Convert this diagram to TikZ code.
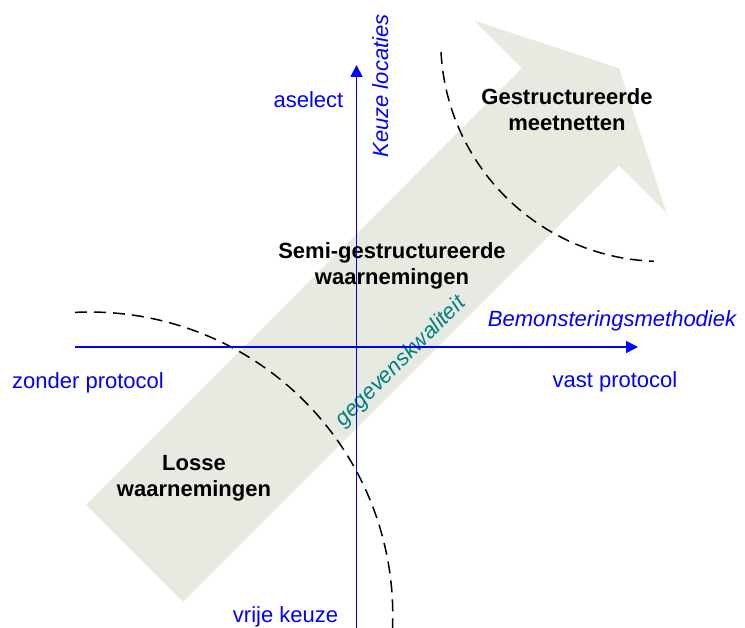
\documentclass[tikz,border=0pt]{standalone}
\usepackage{fontspec}
\setmainfont{Liberation Sans}
\usetikzlibrary{arrows.meta}
\definecolor{arrowfill}{RGB}{231,234,225}
\definecolor{axisblue}{RGB}{0,0,255}
\definecolor{tealtxt}{RGB}{0,128,128}
\tikzset{
  lbl/.style={font=\fontsize{22}{26}\selectfont, inner sep=0pt, anchor=base},
  axlbl/.style={lbl, text=axisblue},
  axtitle/.style={lbl, text=axisblue, font=\fontsize{22}{26}\selectfont\itshape},
  zone/.style={lbl, font=\fontsize{22}{26}\selectfont\bfseries, align=center},
  axisline/.style={draw=axisblue, line width=1.8pt, -{Triangle[length=12pt,width=12pt]}},
  border/.style={draw=black, line width=1.5pt, dash pattern=on 12pt off 7pt},
}
\begin{document}
\begin{tikzpicture}[x=1pt,y=1pt]
\useasboundingbox (0,0) rectangle (745,628);
% big quality arrow
\fill[arrowfill] (86,123) -- (521.7,559.7) -- (474.3,607.3) -- (619,559.7)
  -- (666.7,414.7) -- (619,462.3) -- (183,26) -- cycle;
% dashed boundaries
\draw[border] (75,315.6) arc[start angle=92.8, end angle=-2.5, radius=303];
\draw[border] (441,576) arc[start angle=183, end angle=268, radius=221];
% texts
\node[zone] (gm) at (567,497) {Gestructureerde\\meetnetten};
\node[zone] (sg) at (392,343) {Semi-gestructureerde\\waarnemingen};
\node[zone] (lw) at (194,131) {Losse\\waarnemingen};
\node[axlbl] (asel) at (308.5,520) {aselect};
\node[axtitle, rotate=90] (kl) at (388,542) {Keuze locaties};
\node[axtitle] (bm) at (612,301) {Bemonsteringsmethodiek};
\node[axlbl] (zp) at (88,239) {zonder protocol};
\node[axlbl] (vp) at (615,240) {vast protocol};
\node[axlbl] (vk) at (285.5,5) {vrije keuze};
\node[lbl, text=tealtxt, font=\fontsize{22}{26}\selectfont\itshape, rotate=45] (gk) at (405,262) {gegevenskwaliteit};
% axes
\coordinate (xs) at (75,281);
\coordinate (xe) at (638,281);
\coordinate (ys) at (356.5,0);
\coordinate (ye) at (356.5,563);
\draw[axisline] (xs) -- (xe);
\draw[axisline] (ys) -- (ye);
\end{tikzpicture}
\end{document}
